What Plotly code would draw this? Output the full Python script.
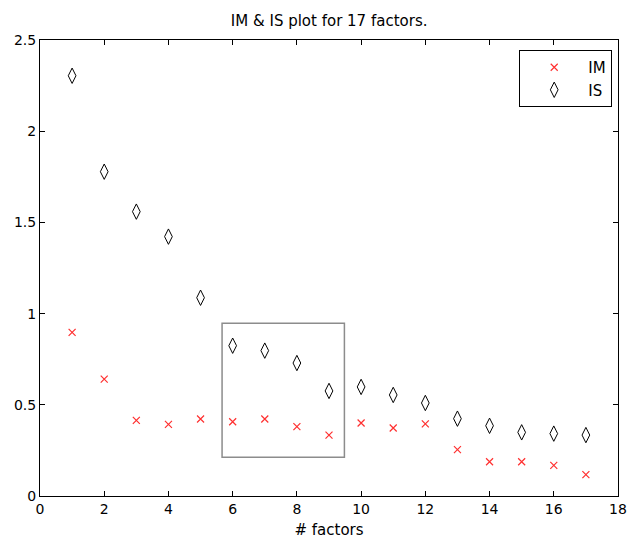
import plotly.graph_objects as go

factors = list(range(1, 18))
im_vals = [0.897, 0.641, 0.415, 0.393, 0.422, 0.407, 0.422, 0.380, 0.334,
           0.400, 0.373, 0.395, 0.254, 0.188, 0.188, 0.168, 0.117]
is_vals = [2.304, 1.778, 1.559, 1.422, 1.087, 0.824, 0.797, 0.729, 0.576,
           0.598, 0.554, 0.510, 0.424, 0.385, 0.349, 0.342, 0.334]
x_ticks = [0, 2, 4, 6, 8, 10, 12, 14, 16, 18]
y_ticks = [0, 0.5, 1, 1.5, 2, 2.5]
y_tick_text = ["0", "0.5", "1", "1.5", "2", "2.5"]
box_x = [5.67, 9.48]
box_y = [0.212, 0.947]

FONT = "DejaVu Sans, Liberation Sans, Arial, sans-serif"

fig = go.Figure()
fig.add_trace(go.Scatter(
    x=factors, y=im_vals, mode="markers", name="IM",
    marker=dict(symbol="x-thin", size=7, color="#ff3030",
                line=dict(color="#ff3030", width=1.2)),
))
fig.add_trace(go.Scatter(
    x=factors, y=is_vals, mode="markers", name="IS",
    marker=dict(symbol="diamond-tall-open", size=11, color="black",
                line=dict(color="black", width=1)),
))

fig.add_shape(type="rect", x0=box_x[0], x1=box_x[1], y0=box_y[0], y1=box_y[1],
              xref="x", yref="y", line=dict(color="#8c8c8c", width=1.5))

axis_common = dict(
    showgrid=False, zeroline=False, showline=True, linecolor="black",
    linewidth=1, mirror="ticks", ticks="inside", ticklen=5,
    tickcolor="black", tickfont=dict(family=FONT, size=14, color="black"),
    automargin=False,
)

fig.update_layout(
    template="none",
    width=627, height=541,
    margin=dict(l=40, r=9, t=40, b=45),
    paper_bgcolor="white", plot_bgcolor="white",
    title=dict(text="IM &amp; IS plot for 17 factors.", x=0.525, xanchor="center",
               y=0.962, yanchor="middle",
               font=dict(family=FONT, size=15, color="black")),
    xaxis=dict(range=[0, 18], tickvals=x_ticks,
               title=dict(text="# factors", standoff=8,
                          font=dict(family=FONT, size=15, color="black")),
               **axis_common),
    yaxis=dict(range=[0, 2.5], tickvals=y_ticks, ticktext=y_tick_text,
               **axis_common),
    legend=dict(x=0.99, y=0.978, xanchor="right", yanchor="top",
                bordercolor="black", borderwidth=1, bgcolor="white",
                font=dict(family=FONT, size=15, color="black"),
                itemwidth=58),
    showlegend=True,
)

fig.write_html("out.html")
